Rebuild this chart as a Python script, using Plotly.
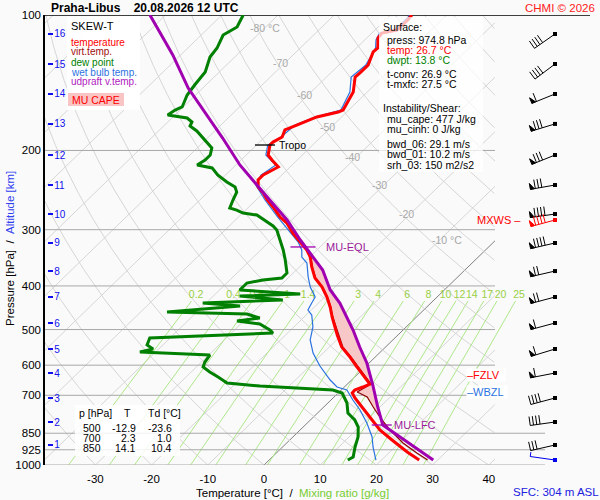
import numpy as np
import plotly.graph_objects as go

# ------------------------------------------------------------------ data
station = "Praha-Libus"
valid_time = "20.08.2026 12 UTC"
credit = "CHMI \u00a9 2026"

# temperature profile (hPa, degC)
temp_p = [100.0, 102.6, 108.0, 109.7, 112.5, 118.4, 120.8, 129.2, 134.5, 137.4, 148.3, 156.1,
          162.6, 164.3, 168.5, 175.6, 180.1, 186.7, 191.6, 194.5, 204.7, 210.0, 215.4, 217.6,
          226.8, 232.6, 241.2, 248.7, 257.7, 267.1, 281.2, 289.9, 305.2, 319.5, 332.8, 345.0,
          363.1, 384.2, 402.2, 423.3, 445.5, 469.0, 514.2, 546.8, 575.5, 605.7, 631.0, 654.1,
          660.8, 671.0, 681.3, 691.8, 709.8, 743.2, 794.3, 836.0, 879.9, 935.6, 974.8]
temp_T = [-56.2, -56.0, -56.1, -58.2, -58.0, -56.2, -56.3, -54.8, -54.8, -54.9, -52.5, -51.6,
          -51.0, -51.5, -54.4, -56.5, -57.7, -56.9, -57.6, -57.6, -56.1, -54.5, -52.7, -52.1,
          -53.3, -53.3, -52.0, -50.0, -48.0, -45.7, -42.6, -40.3, -37.4, -34.5, -31.8, -29.9,
          -27.8, -25.2, -22.3, -19.6, -17.2, -15.0, -10.8, -7.8, -4.5, -1.4, 1.1, 3.3,
          4.0, 3.3, 2.4, 2.5, 3.9, 6.8, 11.0, 14.2, 18.2, 23.1, 26.7]

# dew point profile
dwpt_p = [100.0, 106.3, 110.8, 118.4, 124.0, 133.9, 143.1, 150.6, 160.1, 162.6, 166.8, 169.4,
          172.9, 176.5, 181.0, 189.6, 197.5, 204.7, 210.0, 215.4, 218.7, 226.8, 235.0, 241.2,
          247.4, 257.7, 268.5, 271.3, 275.5, 278.3, 288.4, 294.4, 300.5, 316.2, 332.8, 350.3,
          374.5, 384.2, 388.1, 394.1, 408.4, 416.9, 421.1, 429.9, 436.6, 443.3, 457.1, 461.8,
          471.4, 478.6, 486.1, 501.2, 509.0, 522.2, 541.2, 552.4, 560.9, 569.6, 590.4, 605.7,
          621.4, 637.5, 657.4, 667.6, 674.5, 681.3, 691.8, 728.2, 766.4, 794.3, 823.3, 866.5,
          912.0, 959.9, 974.8]
dwpt_T = [-86.2, -85.1, -86.1, -84.8, -84.4, -82.5, -82.0, -81.5, -80.2, -80.9, -81.3, -77.3,
          -75.7, -75.3, -73.2, -70.1, -67.4, -66.4, -66.4, -66.9, -63.7, -61.4, -58.5, -56.1,
          -54.9, -54.1, -53.2, -51.6, -49.9, -47.1, -44.0, -42.2, -40.8, -38.4, -36.0, -33.8,
          -31.1, -31.1, -34.1, -36.4, -36.4, -24.9, -35.3, -26.9, -40.6, -33.4, -45.3, -30.7,
          -27.7, -31.2, -26.6, -23.7, -22.6, -43.6, -42.8, -41.0, -42.8, -29.8, -29.4, -28.8,
          -26.7, -24.3, -21.6, -15.2, -7.7, -1.5, 0.7, 3.4, 5.4, 7.9, 9.8, 11.6,
          12.9, 14.4, 14.0]

# wet bulb temperature profile
wetb_p = [100.0, 108.0, 109.7, 113.6, 118.4, 129.2, 137.4, 148.3, 162.6, 168.5, 175.6, 186.7,
          194.5, 204.7, 215.4, 226.8, 238.7, 257.7, 281.2, 305.2, 319.5, 332.8, 345.0, 355.7,
          382.2, 402.2, 423.3, 436.6, 452.4, 464.2, 493.5, 527.5, 563.8, 602.6, 647.4, 671.0,
          681.3, 717.1, 754.7, 806.6, 866.5, 912.0, 950.1, 974.8]
wetb_T = [-56.5, -56.4, -58.6, -58.0, -56.6, -55.2, -55.6, -53.1, -51.4, -54.7, -56.8, -57.1,
          -58.0, -56.5, -52.9, -53.7, -52.8, -48.4, -43.0, -37.7, -34.8, -32.7, -31.4, -29.4,
          -26.6, -24.4, -21.7, -21.2, -20.6, -19.0, -16.6, -14.7, -11.8, -8.2, -3.8, -1.3,
          1.0, 3.9, 7.0, 10.6, 14.1, 16.1, 17.9, 19.0]

# virtual temperature profile
virt_p = [305.2, 319.5, 332.8, 345.0, 363.1, 384.2, 402.2, 423.3, 445.5, 469.0, 514.2, 546.8,
          575.5, 605.7, 631.0, 660.8, 688.3, 706.2, 743.2, 782.3, 836.0, 893.5, 940.4, 974.8]
virt_T = [-37.3, -34.4, -31.7, -29.8, -27.7, -25.1, -22.2, -19.5, -17.1, -14.9, -10.6, -7.6,
          -4.3, -1.2, 1.3, 4.2, 3.2, 5.9, 8.8, 11.8, 16.0, 20.7, 25.0, 28.2]

# most-unstable parcel (updraft virtual temperature)
parc_p = [100.0, 109.1, 122.7, 145.3, 166.8, 187.7, 215.4, 232.6, 256.4, 285.5, 316.2, 337.9,
          368.8, 408.4, 436.6, 501.2, 546.8, 593.4, 664.2, 743.2, 814.9, 974.8]
parc_T = [-102.8, -97.9, -91.4, -82.6, -74.3, -67.3, -59.3, -54.2, -47.9, -40.8, -34.8, -30.7,
          -25.3, -20.3, -16.2, -8.9, -4.6, -0.4, 4.7, 9.6, 13.8, 29.2]

# altitude scale (km ASL -> hPa) and winds at those heights
alt_km = [1, 2, 3, 4, 5, 6, 7, 8, 9, 10, 11, 12, 13, 14, 15, 16]
alt_p = [902.7, 802.5, 709.8, 624.6, 552.4, 483.6, 423.3, 370.7, 321.1, 276.9, 238.7, 204.7,
         174.6, 149.8, 128.5, 110.2]
wind_dir = [257, 262, 255, 259, 253, 255, 255, 257, 257, 262, 260, 248, 253, 248, 233, 235]
wind_kt = [30, 40, 40, 60, 60, 60, 70, 70, 90, 90, 80, 80, 80, 60, 40, 40]

# special levels
tropo_p = 194.5
mu_eql_p = 327.7
mu_lfc_p = 814.9
fzlv_p = 631.0
wbzl_p = 688.3
mxws_p, mxws_dir, mxws_kt = 285.5, 255, 90
sfc_p, sfc_dir, sfc_kt, sfc_hgt = 974.8, 278, 5, 304

# surface / index text values
sfc_temp, sfc_dwpt, t_conv, t_mxfc = 26.7, 13.8, 26.9, 27.5
mu_cape, mu_cinh, bwd_06, bwd_01, srh_03 = 477, 0, 29.1, 10.2, 150

# small table
tab_p = [500, 700, 850]
tab_T = [-12.9, 2.3, 14.1]
tab_Td = [-23.6, 1.0, 10.4]

# reference-line values
iso_T = list(range(-130, 50, 10))
theta_C = list(range(-40, 190, 10))
mix_w = [0.2, 0.4, 0.6, 1, 1.4, 2, 3, 4, 6, 8, 10, 12, 14, 17, 20, 25]
iso_lbl_T = [-80, -70, -60, -50, -40, -30, -20, -10]
iso_lbl_p = [106.9, 127.8, 150.6, 177.4, 206.8, 239.1, 276.4, 316.2]
p_levels = [200, 300, 400, 500, 600, 700, 850, 925, 1000]
p_levels_long = [850, 925, 1000]
x_ticks = [-30, -20, -10, 0, 10, 20, 30, 40]

# ------------------------------------------------------------------ geometry
W, H = 600, 500
ML, MR, MT, MB = 45, 10, 15, 35
PW, PH = W - ML - MR, H - MT - MB          # 545 x 450
PXC = 5.62                                  # px per degC
X0PX = 264                                  # px of 0 degC at 1000 hPa
SKEW = 82.5                                 # degC shift per pressure decade
BOT = H - MB                                # px of 1000 hPa


def px2X(px):
    return (px - X0PX) / PXC


XL, XRF = px2X(ML), px2X(W - MR)
XR = px2X(495)
XR_LONG = px2X(545)


def skx(T, p):
    return np.asarray(T, float) + SKEW * np.log10(1000.0 / np.asarray(p, float))


def prof_at(p, pp, tt):
    return float(np.interp(np.log10(p), np.log10(pp), tt))


FONT = "Liberation Sans, Arial, sans-serif"
RED, GREEN, BLUE_WB = "#ff0000", "#008000", "#2a72e0"
PURPLE, DARKRED = "#a000b0", "#8b0000"
ALT_BLUE = "#1010ee"
MIX_LINE, MIX_TXT = "#aee88a", "#99d044"
GRID = "#d6d6d6"

fig = go.Figure()

# ---------------- isotherms
ix, iy = [], []
for T in iso_T:
    if T == 0:
        continue
    ps, pe = 1000.0, 100.0
    if T > XR:
        continue
    if T < XL:
        ps = 1000 * 10 ** (-(XL - T) / SKEW)
        if ps < 100:
            continue
    if T + SKEW > XR:
        pe = 1000 * 10 ** (-(XR - T) / SKEW)
    ix += [float(skx(T, ps)), float(skx(T, pe)), None]
    iy += [ps, pe, None]
fig.add_trace(go.Scatter(x=ix, y=iy, mode="lines", line=dict(color=GRID, width=1),
                         hoverinfo="skip"))
pe0 = 1000 * 10 ** (-(XR - 0) / SKEW)
fig.add_trace(go.Scatter(x=[0.0, float(skx(0, pe0))], y=[1000.0, pe0], mode="lines",
                         line=dict(color="#808080", width=1), hoverinfo="skip"))

# ---------------- dry adiabats
pg = np.logspace(3, 2, 500)
ax_, ay_ = [], []
for th in theta_C:
    T = (th + 273.15) * (pg / 1000.0) ** 0.2857 - 273.15
    X = skx(T, pg)
    for xv, pv in zip(X, pg):
        if XL - 3 <= xv <= XR:
            ax_.append(float(xv)); ay_.append(float(pv))
        else:
            if ax_ and ax_[-1] is not None:
                ax_.append(None); ay_.append(None)
    ax_.append(None); ay_.append(None)
fig.add_trace(go.Scatter(x=ax_, y=ay_, mode="lines", line=dict(color=GRID, width=1),
                         hoverinfo="skip"))

# ---------------- mixing ratio lines
pm = np.logspace(3, np.log10(432), 40)
mx, my = [], []
lx, ly, lt = [], [], []
for w in mix_w:
    e = w * pm / (622.0 + w)
    g = np.log(e / 6.112)
    Td = 243.5 * g / (17.67 - g)
    mx += list(skx(Td, pm)) + [None]
    my += list(pm) + [None]
    p_l = 419.0
    e_l = w * p_l / (622.0 + w)
    g_l = np.log(e_l / 6.112)
    lx.append(float(skx(243.5 * g_l / (17.67 - g_l), p_l)))
    ly.append(p_l)
    lt.append(f"{w:g}")
fig.add_trace(go.Scatter(x=mx, y=my, mode="lines", line=dict(color=MIX_LINE, width=1),
                         hoverinfo="skip"))
fig.add_trace(go.Scatter(x=lx, y=ly, mode="text", text=lt, textposition="middle center",
                         textfont=dict(color=MIX_TXT, size=10.5, family=FONT),
                         cliponaxis=False, hoverinfo="skip"))

# ---------------- pressure lines
hx, hy = [], []
for p in p_levels:
    xr = XR_LONG if p in p_levels_long else XR
    hx += [XL, xr, None]
    hy += [p, p, None]
fig.add_trace(go.Scatter(x=hx, y=hy, mode="lines", line=dict(color="#a8a8a8", width=1),
                         hoverinfo="skip"))
fig.add_trace(go.Scatter(x=[XL, XRF], y=[100, 100], mode="lines",
                         line=dict(color="black", width=1.3), hoverinfo="skip",
                         cliponaxis=False))

# ---------------- CAPE area
pc = np.logspace(np.log10(mu_lfc_p), np.log10(mu_eql_p), 80)
xpar = [float(skx(prof_at(p, parc_p, parc_T), p)) for p in pc]
xtv = [float(skx(prof_at(p, virt_p, virt_T), p)) for p in pc]
fig.add_trace(go.Scatter(x=xpar + xtv[::-1], y=list(pc) + list(pc[::-1]), mode="lines",
                         fill="toself", fillcolor="#f8c8c8", line=dict(width=0),
                         hoverinfo="skip"))

# ---------------- profiles
fig.add_trace(go.Scatter(x=skx(virt_T, virt_p), y=virt_p, mode="lines",
                         line=dict(color=DARKRED, width=1.2), hoverinfo="skip"))
fig.add_trace(go.Scatter(x=skx(wetb_T, wetb_p), y=wetb_p, mode="lines",
                         line=dict(color=BLUE_WB, width=1.2), hoverinfo="skip"))
fig.add_trace(go.Scatter(x=skx(dwpt_T, dwpt_p), y=dwpt_p, mode="lines",
                         line=dict(color=GREEN, width=3), hoverinfo="skip"))
fig.add_trace(go.Scatter(x=skx(temp_T, temp_p), y=temp_p, mode="lines",
                         line=dict(color=RED, width=3), hoverinfo="skip"))
fig.add_trace(go.Scatter(x=skx(parc_T, parc_p), y=parc_p, mode="lines",
                         line=dict(color=PURPLE, width=3), hoverinfo="skip"))

annotations = []


def dann(X, p, text, color, xanchor="left", size=10.5, **kw):
    annotations.append(dict(x=X, y=float(np.log10(p)), xref="x", yref="y", text=text,
                            showarrow=False, xanchor=xanchor, yanchor="middle",
                            font=dict(color=color, size=size, family=FONT), borderpad=0, **kw))


# tropopause
Xt = float(skx(prof_at(tropo_p, temp_p, temp_T), tropo_p))
fig.add_trace(go.Scatter(x=[Xt - 15 / PXC, Xt + 5 / PXC], y=[tropo_p, tropo_p], mode="lines",
                         line=dict(color="black", width=1.3), hoverinfo="skip"))
dann(Xt + 8 / PXC, tropo_p, "Tropo", "black")
# MU-EQL / MU-LFC
Xe = float(skx(prof_at(mu_eql_p, parc_p, parc_T), mu_eql_p))
Xf = float(skx(prof_at(mu_lfc_p, parc_p, parc_T), mu_lfc_p))
fig.add_trace(go.Scatter(x=[Xe - 15 / PXC, Xe + 10 / PXC, None, Xf - 11 / PXC, Xf + 9 / PXC],
                         y=[mu_eql_p, mu_eql_p, None, mu_lfc_p, mu_lfc_p], mode="lines",
                         line=dict(color=PURPLE, width=1.3), hoverinfo="skip"))
dann(Xe + 20 / PXC, mu_eql_p, "MU-EQL", "#9a1a9a", size=11)
dann(Xf + 10 / PXC, mu_lfc_p, "MU-LFC", "#9a1a9a", size=11)
# FZLV / WBZL / MXWS
dann(px2X(466), fzlv_p, "\u2013FZLV\u00a0\u00a0", RED, size=11, bgcolor="white")
dann(px2X(466), wbzl_p, "\u2013WBZL\u00a0", "#2a72e0", size=11, bgcolor="white")
dann(px2X(522), mxws_p, "MXWS \u2013", RED, xanchor="right", size=11)

# isotherm labels
for T, p in zip(iso_lbl_T, iso_lbl_p):
    txt = f"{T} \u00b0C" if T in (-80, -10) else f"{T}"
    shift = 0 if T == -80 else (7 if T == -10 else -4)
    annotations.append(dict(x=float(skx(T, p)), y=float(np.log10(p)), xref="x", yref="y",
                            text=txt, showarrow=False, xanchor="center", yanchor="middle",
                            xshift=shift, font=dict(color="#a8a8a8", size=10.5, family=FONT)))

# ---------------- wind barbs (x2 axis in pixel units, dot at 0)


def barb(p0, d, spd, L=25.0, F=9.0, step=3.3):
    r = np.radians(d)
    ux, uy = np.sin(r), -np.cos(r)
    fx, fy = -uy, ux
    tx, ty = L * ux, L * uy
    lines = [[(0.0, 0.0), (tx, ty)]]
    tris = []
    n_pen = int(spd // 50)
    rest = spd - 50 * n_pen
    n_full = int(rest // 10)
    half = (rest - 10 * n_full) >= 5
    s = 0.0
    for _ in range(n_pen):
        a = (tx - s * ux, ty - s * uy)
        b = (tx - (s + 4) * ux, ty - (s + 4) * uy)
        c = (a[0] + 6 * fx, a[1] + 6 * fy)
        tris.append([a, c, b, a])
        s += 5
    for _ in range(n_full):
        a = (tx - s * ux, ty - s * uy)
        lines.append([a, (a[0] + F * fx, a[1] + F * fy)])
        s += step
    if half:
        a = (tx - s * ux, ty - s * uy)
        lines.append([a, (a[0] + F / 2 * fx, a[1] + F / 2 * fy)])

    def conv(poly):
        return [pt[0] for pt in poly], [p0 * 10 ** (pt[1] / PH) for pt in poly]
    return [conv(l) for l in lines], [conv(t) for t in tris]


def add_barbs(plist, dlist, slist, color):
    lx_, ly_, tx_, ty_ = [], [], [], []
    for p0, d, s in zip(plist, dlist, slist):
        ls, ts = barb(p0, d, s)
        for xs, ys in ls:
            lx_ += xs + [None]; ly_ += ys + [None]
        for xs, ys in ts:
            tx_ += xs + [None]; ty_ += ys + [None]
    fig.add_trace(go.Scatter(x=lx_, y=ly_, mode="lines", xaxis="x2", yaxis="y",
                             line=dict(color=color, width=1), hoverinfo="skip",
                             cliponaxis=False))
    if tx_:
        fig.add_trace(go.Scatter(x=tx_, y=ty_, mode="lines", xaxis="x2", yaxis="y",
                                 fill="toself", fillcolor=color,
                                 line=dict(color=color, width=1), hoverinfo="skip"))
    fig.add_trace(go.Scatter(x=[0.0] * len(plist), y=plist, mode="markers", xaxis="x2",
                             yaxis="y", marker=dict(symbol="square", size=4, color=color),
                             hoverinfo="skip", cliponaxis=False))


add_barbs(alt_p, wind_dir, wind_kt, "black")
add_barbs([mxws_p], [mxws_dir], [mxws_kt], RED)
add_barbs([sfc_p], [sfc_dir], [sfc_kt], "#0000ee")

# dummy trace so the altitude axis is drawn
fig.add_trace(go.Scatter(x=[XL], y=[500], yaxis="y2", mode="markers",
                         marker=dict(opacity=0), hoverinfo="skip"))

# ---------------- paper-space text & boxes
shapes = []


def ppx(x):
    return (x - ML) / PW


def ppy(y):
    return (BOT - y) / PH


def pann(x, y, text, color="black", size=10.5, xanchor="left", **kw):
    annotations.append(dict(x=ppx(x), y=ppy(y), xref="paper", yref="paper", text=text,
                            showarrow=False, xanchor=xanchor, yanchor="middle",
                            font=dict(size=size, color=color, family=FONT), borderpad=0, **kw))


def prect(x0, y0, x1, y1, fill):
    shapes.append(dict(type="rect", xref="paper", yref="paper", x0=ppx(x0), x1=ppx(x1),
                       y0=ppy(y1), y1=ppy(y0), fillcolor=fill, line=dict(width=0),
                       layer="above"))


# legend box
prect(67, 16, 140, 110, "rgba(255,255,255,0.95)")
prect(68, 93, 124, 106, "#f8c4c4")
pann(70, 26, "SKEW-T", "black", 11)
pann(70, 42, "temperature", RED, 10)
pann(70, 52, "virt.temp.", "#a01010", 10)
pann(70, 62, "dew point", GREEN, 10)
pann(70, 72, "wet bulb temp.", BLUE_WB, 10)
pann(70, 82, "udpraft v.temp.", "#b020c0", 10)
pann(96, 100, "MU CAPE", RED, 10.5, xanchor="center")

# surface box
prect(379, 17, 483, 172, "rgba(255,255,255,0.72)")
pann(382, 27, "Surface:")
pann(386, 40, f"press: {sfc_p:.1f} hPa")
pann(386, 50, f"temp: {sfc_temp:.1f} \u00b0C", RED)
pann(386, 60, f"dwpt: {sfc_dwpt:.1f} \u00b0C", GREEN)
pann(386, 74, f"t-conv: {t_conv:.1f} \u00b0C")
pann(386, 84, f"t-mxfc: {t_mxfc:.1f} \u00b0C")
pann(382, 108, "Instability/Shear:")
pann(386, 119, f"mu_cape: {mu_cape} J/kg")
pann(386, 129, f"mu_cinh: {mu_cinh} J/kg")
pann(386, 144, f"bwd_06: {bwd_06:.1f} m/s")
pann(386, 154, f"bwd_01: {bwd_01:.1f} m/s")
pann(386, 165, f"srh_03: {srh_03} m2/s2")

# table box
prect(75, 405, 180, 456, "rgba(255,255,255,0.85)")
pann(78, 413, "p [hPa]")
pann(127, 413, "T", xanchor="center")
pann(147, 413, "Td [\u00b0C]")
for i, (p, t, td) in enumerate(zip(tab_p, tab_T, tab_Td)):
    yy = 428 + 10 * i
    pann(102, yy, f"{p}", xanchor="right")
    pann(137, yy, f"{t:.1f}", xanchor="right")
    pann(173, yy, f"{td:.1f}", xanchor="right")

# titles
pann(50, 8, f"<b>{station}\u00a0\u00a0\u00a0\u00a0{valid_time}</b>", "black", 12)
pann(596, 8, credit, "#ff2020", 11.5, xanchor="right")
pann(292, 493, "Temperature [\u00b0C]\u00a0\u00a0/\u00a0\u00a0"
     "<span style='color:#77cc33'>Mixing ratio [g/kg]</span>", "black", 11.5,
     xanchor="center")
pann(512, 492, f"SFC: {sfc_hgt} m ASL", "#2020e0", 11.5)
annotations.append(dict(x=ppx(10), y=ppy(249), xref="paper", yref="paper",
                        text="Pressure [hPa]\u00a0\u00a0/\u00a0\u00a0"
                             "<span style='color:#3040f0'>Altitude [km]</span>",
                        textangle=-90, showarrow=False, xanchor="center", yanchor="middle",
                        font=dict(size=11.5, color="black", family=FONT)))

fig.update_layout(
    width=W, height=H,
    margin=dict(l=ML, r=MR, t=MT, b=MB),
    paper_bgcolor="#fafafa", plot_bgcolor="rgba(0,0,0,0)",
    showlegend=False,
    font=dict(family=FONT, size=11, color="black"),
    xaxis=dict(domain=[0, 1], range=[XL, XRF], tickmode="array", tickvals=x_ticks,
               ticktext=[str(t) for t in x_ticks], ticks="outside", ticklen=3,
               tickcolor="rgba(0,0,0,0)", showgrid=False, zeroline=False, showline=False,
               tickfont=dict(size=11.5, color="black"), fixedrange=True),
    xaxis2=dict(domain=[ppx(525), ppx(565)], range=[-30, 10], anchor="y", visible=False,
                fixedrange=True),
    yaxis=dict(type="log", range=[3, 2], tickmode="array", tickvals=[100] + p_levels,
               ticktext=[str(p) for p in [100] + p_levels], ticks="", showgrid=False,
               zeroline=False, showline=True, linecolor="black", linewidth=1.5,
               tickfont=dict(size=11.5, color="black"), fixedrange=True),
    yaxis2=dict(type="log", range=[3, 2], overlaying="y", side="left", anchor="free",
                position=0.004, tickmode="array", tickvals=alt_p,
                ticktext=[str(k) for k in alt_km], ticks="inside", ticklen=5, tickwidth=1.5,
                tickcolor=ALT_BLUE, ticklabelposition="inside",
                tickfont=dict(size=10, color=ALT_BLUE), showgrid=False, zeroline=False,
                showline=False, fixedrange=True),
    annotations=annotations,
    shapes=shapes,
)

fig.write_html("out.html", config={"displayModeBar": False},
               post_script="document.body.style.margin='0px';"
                           "document.body.style.padding='0px';"
                           "document.body.style.overflow='hidden';"
                           "document.body.style.background='#fafafa';")
